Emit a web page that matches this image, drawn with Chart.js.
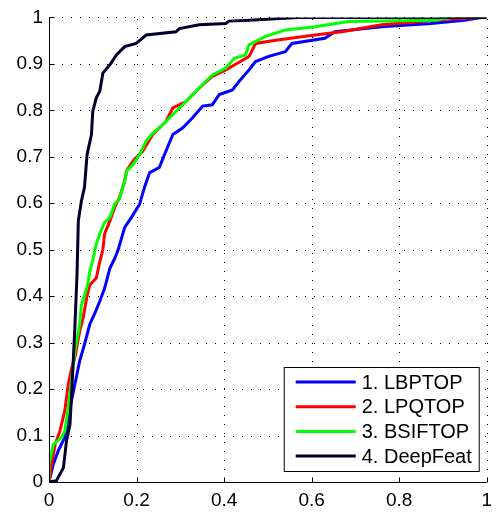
<!DOCTYPE html>
<html>
<head>
<meta charset="utf-8">
<script src="https://cdn.jsdelivr.net/npm/chart.js@4/dist/chart.umd.min.js"></script>
<style>
    html, body { margin: 0; padding: 0; background: #fff; }
    #wrap { width: 499px; height: 512px; }
</style>
</head>
<body>
<div id="wrap"><canvas id="rocChart"></canvas></div>
<script>
// ROC curves
const seriesLabels = ['1. LBPTOP', '2. LPQTOP', '3. BSIFTOP', '4. DeepFeat'];
const seriesColors = ['#0000ff', '#ff0000', '#00ff00', '#00002e'];

const lbpX = [0, .01, .021, .036, .048, .059, .07, .081, .093, .105, .116, .127, .139, .15, .158, .173, .188, .207, .218, .23, .252, .267, .283, .305, .328, .351, .373, .389, .419, .434, .457, .472, .502, .54, .555, .63, .653, .76, .873, .949, .987, 1];
const lbpY = [0, .039, .067, .096, .16, .21, .26, .296, .339, .364, .389, .417, .46, .481, .5, .548, .569, .598, .634, .666, .677, .712, .748, .762, .784, .809, .812, .834, .844, .862, .887, .905, .916, .926, .944, .955, .969, .98, .987, .994, 1, 1];

const lpqX = [0, .006, .014, .025, .036, .044, .052, .059, .07, .078, .086, .093, .108, .116, .123, .127, .139, .15, .161, .173, .177, .192, .214, .237, .267, .283, .313, .343, .373, .404, .457, .472, .518, .608, .669, .76, .911, .987, 1];
const lpqY = [0, .039, .081, .11, .153, .21, .246, .267, .324, .353, .396, .424, .439, .474, .5, .534, .562, .591, .612, .648, .669, .691, .712, .748, .776, .805, .819, .848, .873, .887, .916, .944, .951, .962, .969, .984, .996, 1, 1];

const bsifX = [0, 0, .01, .029, .036, .044, .052, .059, .07, .074, .084, .089, .093, .101, .105, .108, .116, .127, .139, .15, .161, .173, .177, .192, .207, .222, .237, .26, .283, .313, .343, .373, .404, .423, .449, .457, .495, .54, .608, .684, .881, .92, 1];
const bsifY = [0, .039, .081, .096, .11, .16, .224, .281, .339, .381, .41, .428, .453, .481, .5, .512, .534, .559, .569, .598, .609, .648, .669, .683, .705, .734, .751, .769, .791, .819, .848, .876, .891, .912, .919, .941, .959, .973, .98, .991, .994, 1, 1];

const deepX = [0, .017, .033, .04, .048, .052, .059, .064, .067, .074, .081, .087, .097, .1, .108, .116, .123, .139, .154, .173, .199, .222, .29, .298, .343, .404, .411, .457, .57, 1];
const deepY = [0, .003, .031, .089, .124, .196, .331, .446, .562, .605, .634, .705, .748, .798, .827, .841, .88, .898, .919, .937, .944, .962, .969, .976, .984, .987, .992, .994, 1, 1];

const xTicks = [0, 0.2, 0.4, 0.6, 0.8, 1];
const yTicks = [0, 0.1, 0.2, 0.3, 0.4, 0.5, 0.6, 0.7, 0.8, 0.9, 1];

const FONT = '"Liberation Sans", Arial, sans-serif';

function toPoints(xs, ys) {
    return xs.map((x, i) => ({ x: x, y: ys[i] }));
}

function tickLabel(v) {
    return String(Math.round(v * 10) / 10);
}

// Dotted grid (MATLAB ':' style), one pixel dots every 9 px
const dottedGrid = {
    id: 'dottedGrid',
    beforeDatasetsDraw(chart) {
        const ctx = chart.ctx;
        const area = chart.chartArea;
        const xs = chart.scales.x;
        const ys = chart.scales.y;
        const left = Math.round(area.left);
        const right = Math.round(area.right);
        const top = Math.round(area.top);
        const bottom = Math.round(area.bottom);
        ctx.save();
        ctx.fillStyle = '#000';
        yTicks.forEach(v => {
            if (v === 0) return;
            const py = Math.round(ys.getPixelForValue(v));
            for (let x = left + 4; x <= right; x += 9) ctx.fillRect(x, py, 1, 1);
        });
        xTicks.forEach(v => {
            if (v === 0) return;
            const px = Math.round(xs.getPixelForValue(v));
            for (let y = bottom - 4; y >= top; y -= 9) ctx.fillRect(px, y, 1, 1);
        });
        ctx.restore();
    }
};

// Solid axis lines plus inward tick marks on the left and bottom
const innerTicks = {
    id: 'innerTicks',
    afterDraw(chart) {
        const ctx = chart.ctx;
        const area = chart.chartArea;
        const xs = chart.scales.x;
        const ys = chart.scales.y;
        ctx.save();
        ctx.strokeStyle = '#000';
        ctx.lineWidth = 1;
        ctx.beginPath();
        const left = Math.round(area.left) + 0.5;
        const bottom = Math.round(area.bottom) + 0.5;
        ctx.moveTo(left, area.top);
        ctx.lineTo(left, bottom);
        ctx.lineTo(area.right, bottom);
        yTicks.forEach(v => {
            const py = Math.round(ys.getPixelForValue(v)) + 0.5;
            ctx.moveTo(left, py);
            ctx.lineTo(left + 5, py);
        });
        xTicks.forEach(v => {
            const px = Math.round(xs.getPixelForValue(v)) + 0.5;
            ctx.moveTo(px, bottom);
            ctx.lineTo(px, bottom - 5);
        });
        ctx.stroke();
        ctx.restore();
    }
};

// Legend box inside the plot, bottom right
const boxLegend = {
    id: 'boxLegend',
    afterDraw(chart) {
        const ctx = chart.ctx;
        const area = chart.chartArea;
        const w = 195, h = 104;
        const left = area.right - 8 - w;
        const top = area.bottom - 11 - h;
        ctx.save();
        ctx.fillStyle = '#fff';
        ctx.fillRect(left, top, w, h);
        ctx.strokeStyle = '#000';
        ctx.lineWidth = 1;
        ctx.strokeRect(left + 0.5, top + 0.5, w, h);
        ctx.font = '20px ' + FONT;
        ctx.textBaseline = 'middle';
        ctx.fillStyle = '#000';
        chart.data.datasets.forEach((ds, i) => {
            const y = top + 15 + i * 24.7;
            ctx.strokeStyle = ds.borderColor;
            ctx.lineWidth = 3;
            ctx.beginPath();
            ctx.moveTo(left + 12, y);
            ctx.lineTo(left + 72, y);
            ctx.stroke();
            ctx.fillText(ds.label, left + 78, y + 1);
        });
        ctx.restore();
    }
};

const allX = [lbpX, lpqX, bsifX, deepX];
const allY = [lbpY, lpqY, bsifY, deepY];

const datasets = seriesLabels.map((label, i) => ({
    label: label,
    data: toPoints(allX[i], allY[i]),
    borderColor: seriesColors[i],
    borderWidth: 3,
    pointRadius: 0,
    tension: 0,
    fill: false,
    order: seriesLabels.length - i
}));

new Chart(document.getElementById('rocChart'), {
    type: 'line',
    data: { datasets: datasets },
    options: {
        responsive: true,
        maintainAspectRatio: false,
        animation: false,
        events: [],
        layout: { padding: { top: 16, right: 9, left: 0, bottom: 0 } },
        plugins: {
            legend: { display: false },
            tooltip: { enabled: false }
        },
        scales: {
            x: {
                type: 'linear',
                min: 0,
                max: 1,
                afterBuildTicks: scale => { scale.ticks = xTicks.map(v => ({ value: v })); },
                afterFit: scale => { scale.height = 30; },
                ticks: {
                    callback: tickLabel,
                    color: '#000',
                    font: { family: FONT, size: 19 },
                    padding: 7,
                    maxRotation: 0
                },
                grid: { display: false, drawTicks: false },
                border: { display: false }
            },
            y: {
                type: 'linear',
                min: 0,
                max: 1,
                afterBuildTicks: scale => { scale.ticks = yTicks.map(v => ({ value: v })); },
                afterFit: scale => { scale.width = 49; },
                ticks: {
                    callback: tickLabel,
                    color: '#000',
                    font: { family: FONT, size: 19 },
                    padding: 6
                },
                grid: { display: false, drawTicks: false },
                border: { display: false }
            }
        }
    },
    plugins: [dottedGrid, innerTicks, boxLegend]
});
</script>
</body>
</html>
